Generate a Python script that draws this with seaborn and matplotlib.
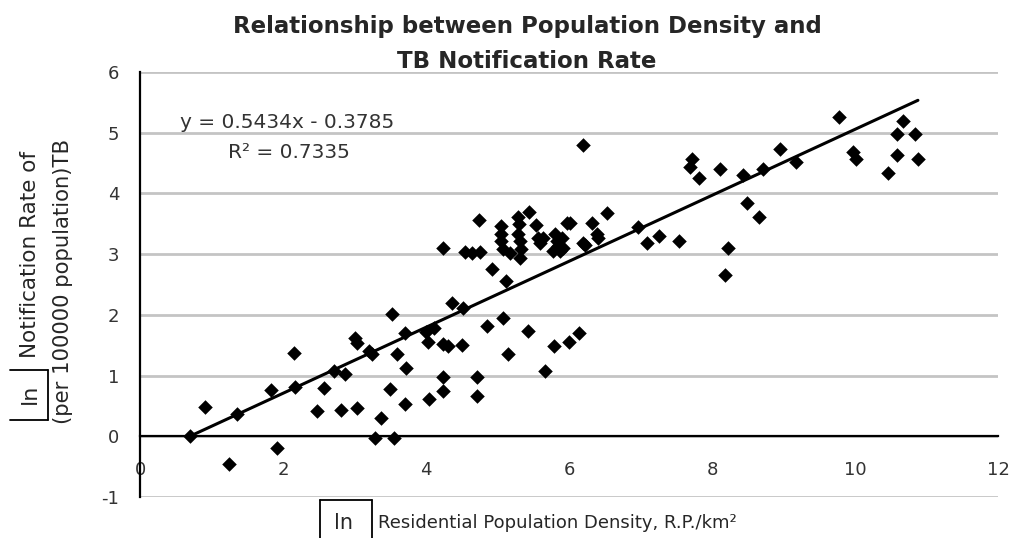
import numpy as np
import pandas as pd
import seaborn as sns
import matplotlib
matplotlib.use("Agg")
from matplotlib import pyplot as plt
from matplotlib.lines import Line2D

# ln(residential population density) vs ln(TB notification rate)
log_density = [
    0.70, 0.91, 1.35, 1.25, 1.83, 2.15, 2.17, 1.92, 2.47, 2.57, 2.71, 2.87,
    2.81, 3.04, 3.01, 3.03, 3.20, 3.25, 3.52, 3.37, 3.29, 3.55, 3.50, 3.60,
    3.71, 3.72, 3.71, 4.03, 4.00, 4.11, 4.04, 4.24, 4.31, 4.50, 4.24, 4.24,
    4.36, 4.52, 4.71, 4.71, 4.86, 5.07, 5.43, 5.15, 5.79, 6.00, 6.14, 5.66,
    4.74, 4.24, 4.55, 4.64, 4.76, 4.92, 5.12, 5.05, 5.05, 5.05, 5.08, 5.17,
    5.29, 5.30, 5.29, 5.31, 5.33, 5.31, 5.44, 5.54, 5.57, 5.64, 5.60, 5.80,
    5.83, 5.85, 5.78, 5.87, 5.97, 6.01, 5.90, 5.92, 6.20, 6.22, 6.32, 6.39,
    6.41, 6.53, 6.97, 7.09, 7.26, 7.54, 8.22, 8.18, 6.20,
    7.72, 7.69, 7.82, 8.11, 8.43, 8.71, 8.95, 9.17, 8.49, 8.66, 9.78, 9.97,
    10.01, 10.46, 10.59, 10.59, 10.67, 10.84, 10.88,
]
log_rate = [
    0.00, 0.49, 0.36, -0.46, 0.77, 1.38, 0.82, -0.20, 0.41, 0.80, 1.08, 1.02,
    0.44, 0.47, 1.62, 1.54, 1.41, 1.36, 2.02, 0.30, -0.02, -0.02, 0.78, 1.36,
    1.70, 1.13, 0.54, 1.56, 1.72, 1.79, 0.62, 1.52, 1.48, 1.51, 0.98, 0.74,
    2.20, 2.11, 0.98, 0.67, 1.82, 1.95, 1.74, 1.36, 1.48, 1.56, 1.70, 1.07,
    3.57, 3.10, 3.03, 3.02, 3.03, 2.75, 2.56, 3.46, 3.34, 3.21, 3.08, 3.02,
    3.62, 3.50, 3.33, 3.21, 3.08, 2.93, 3.69, 3.48, 3.26, 3.26, 3.18, 3.33,
    3.21, 3.13, 3.05, 3.05, 3.51, 3.51, 3.26, 3.10, 3.18, 3.15, 3.51, 3.33,
    3.26, 3.67, 3.44, 3.18, 3.30, 3.21, 3.10, 2.66, 4.80,
    4.57, 4.44, 4.25, 4.41, 4.31, 4.41, 4.74, 4.51, 3.84, 3.61, 5.26, 4.69,
    4.56, 4.33, 4.64, 4.98, 5.20, 4.98, 4.56,
]
slope = 0.5434
intercept = -0.3785
r_squared = 0.7335
y_ticks = [-1, 0, 1, 2, 3, 4, 5, 6]
x_ticks = [0, 2, 4, 6, 8, 10, 12]

df = pd.DataFrame({"density": log_density, "rate": log_rate})
trend_x = np.array([df["density"].min(), df["density"].max()])
trend = pd.DataFrame({"density": trend_x, "rate": slope * trend_x + intercept})

sns.set_style("white")
plt.rcParams["font.family"] = ["DejaVu Sans"]
plt.rcParams["axes.unicode_minus"] = False

W, H = 1011, 538
fig = plt.figure(figsize=(W / 100, H / 100), dpi=100)


def fx(px):
    return px / W


def fy(py):
    return 1 - py / H


ax = fig.add_axes([fx(140), fy(497), (998 - 140) / W, (497 - 72) / H])

sns.scatterplot(data=df, x="density", y="rate", marker="D", color="black",
                s=55, linewidth=0, ax=ax, zorder=4)
sns.lineplot(data=trend, x="density", y="rate", color="black", lw=2.2,
             ax=ax, zorder=3)

ax.set_xlim(0, 12)
ax.set_ylim(-1, 6)
ax.set_xticks(x_ticks)
ax.set_yticks(y_ticks)
ax.set_xlabel("")
ax.set_ylabel("")

ax.yaxis.grid(True, color="#c4c4c4", lw=2)
ax.xaxis.grid(False)
ax.set_axisbelow(True)

for side in ["top", "right"]:
    ax.spines[side].set_visible(False)
ax.spines["left"].set_color("black")
ax.spines["left"].set_linewidth(1.6)
ax.spines["bottom"].set_position(("data", 0))
ax.spines["bottom"].set_color("black")
ax.spines["bottom"].set_linewidth(1.6)

ax.tick_params(axis="x", direction="in", length=5, width=1.2, pad=18,
               labelsize=13, labelcolor="#333333", color="black")
ax.tick_params(axis="y", direction="in", length=5, width=1.2, pad=15,
               labelsize=13, labelcolor="#333333", color="black")

# title
fig.text(fx(527), fy(27), "Relationship between Population Density and",
         ha="center", va="center", fontsize=16.5, fontweight="bold")
fig.text(fx(527), fy(62), "TB Notification Rate",
         ha="center", va="center", fontsize=16.5, fontweight="bold")

# trend line equation
fig.text(fx(180), fy(122), f"y = {slope}x - {abs(intercept)}",
         ha="left", va="center", fontsize=14.5, color="#333333")
fig.text(fx(228), fy(152), f"R\u00b2 = {r_squared}",
         ha="left", va="center", fontsize=14.5, color="#333333")

# y axis label with boxed "ln"
fig.text(fx(30), fy(394), "ln", rotation=90, ha="center", va="center",
         fontsize=16)
fig.text(fx(30), fy(255), "Notification Rate of", rotation=90,
         ha="center", va="center", fontsize=15.5)
fig.text(fx(63), fy(281), "(per 100000 population)TB", rotation=90,
         ha="center", va="center", fontsize=15.2)
for xs, ys in [([10, 48], [370, 370]), ([10, 48], [420, 420]),
               ([48, 48], [370, 420])]:
    fig.add_artist(Line2D([fx(v) for v in xs], [fy(v) for v in ys],
                          color="black", lw=1.3, transform=fig.transFigure))

# x axis label with boxed "ln"
fig.text(fx(344), fy(523), "ln", ha="center", va="center", fontsize=15)
fig.text(fx(378), fy(523), "Residential Population Density, R.P./km\u00b2",
         ha="left", va="center", fontsize=13)
for xs, ys in [([320, 320], [500, 538]), ([320, 372], [500, 500]),
               ([372, 372], [500, 538])]:
    fig.add_artist(Line2D([fx(v) for v in xs], [fy(v) for v in ys],
                          color="black", lw=1.3, transform=fig.transFigure))

fig.savefig("out.png", dpi=100)
